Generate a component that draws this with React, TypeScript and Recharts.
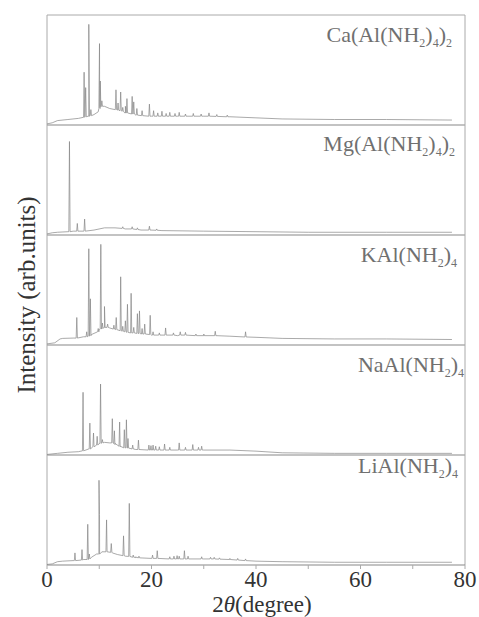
import React from 'react';
import { LineChart, Line, XAxis, YAxis, ReferenceLine } from 'recharts';

// 2θ axis
const xTicks = [0, 10, 20, 30, 40, 50, 60, 70, 80];

// Each pattern: baseline points [2θ, intensity] and peaks [2θ, base, top]
// intensity in % of its panel height
const caBase: [number, number][] = [[0,1],[1,2],[2,4],[4,5],[6,6],[7,7],[8,8],[9,9.5],[9.8,12],[10.3,17],[11,17],[12,15],[13,14],[15,11],[17,9],[20,8],[25,8],[30,8],[35,7.5],[40,6.5],[45,5.5],[55,5],[65,5],[77.5,4.5]];
const caPeaks: [number, number, number][] = [[7.1,7,48],[7.4,7.5,34],[8.0,8,91.5],[8.4,8.5,14],[10.05,15,74],[10.2,16.5,40],[10.5,17,22],[13.2,14,32],[13.6,13.5,20],[14.1,13,30],[14.5,12.5,16],[15.0,11,17],[15.3,11,24],[16.3,10,26],[16.6,10,21],[17.2,9,15],[18.2,8.5,13],[19.6,8,19],[20.4,8,13],[21.2,8,11],[22.0,8,12.5],[22.8,8,10.5],[23.5,8,11.5],[24.5,8,10.5],[25.3,8,11.5],[26.5,8,10],[28.0,8,10.5],[29.5,8,10],[31.0,8,11],[32.5,7.8,9.5],[34.5,7.5,9]];

const mgBase: [number, number][] = [[0,1],[1,2],[2,2.5],[4,3],[5,3.5],[7,3.5],[9,4.5],[11,6.5],[13,6.5],[15,5.5],[18,4.5],[22,4],[30,3.5],[40,3],[50,2.5],[65,2.5],[77.5,2.5]];
const mgPeaks: [number, number, number][] = [[4.3,3,85],[5.8,3.5,10.5],[7.2,3.5,14.5],[14.5,6,7.5],[16.3,5.5,7.5],[17.3,5,6.5],[19.6,4.5,8],[21,4.3,5.5]];

const kBase: [number, number][] = [[0,1],[1.5,2],[2.5,5.5],[3,6],[5,6.3],[7,7.5],[8.5,9.5],[10,14],[11,16],[12,15.5],[14,13],[16,11],[18,10],[20,9],[25,8.5],[30,8.5],[35,8],[40,7],[45,6],[55,5.5],[65,5.5],[77.5,5]];
const kPeaks: [number, number, number][] = [[5.7,6.3,25],[7.6,7.5,12],[8.0,8,87.5],[8.3,8.5,42],[9.8,12,15],[10.3,14.5,91.5],[10.6,15,20],[11.0,16,35],[11.6,16,19],[12.8,14.5,18],[13.25,14,25],[14.1,13,62],[14.5,12.5,17],[15.0,12,22],[15.4,11.5,37],[16.1,11,47],[16.6,11,16],[17.3,10.5,28.5],[17.7,10.5,31],[18.2,10,15],[18.7,10,19],[19.75,9.5,27],[20.3,9,12],[21.5,9,11],[22.7,9,15.5],[24.2,9,11],[25.5,9,12],[26.5,9,11.5],[28.5,8.5,10],[30,8.5,10],[32.2,8.5,12.5],[38.0,7.3,12]];

const naBase: [number, number][] = [[0,0.5],[2,1.5],[4,2.5],[6,3],[7,4],[8,5.5],[9,8],[10,10.5],[11,11.5],[12,11],[13,9.5],[14,7.5],[15,6.5],[17,5],[20,4.5],[25,4.5],[30,4.5],[35,4.5],[40,3.5],[45,2],[55,1.5],[65,1.5],[77.5,1.5]];
const naPeaks: [number, number, number][] = [[6.9,3.8,57],[8.2,5.5,29],[8.9,7.5,20],[9.6,9,17],[10.25,10.5,64.5],[10.6,11,14],[12.5,11,33],[12.9,10.5,22],[13.9,8,30],[14.8,6.5,23],[15.2,6.5,32],[15.5,6.3,15],[16.4,5.5,9],[17.5,5,13.5],[19.5,4.5,9],[19.9,4.5,8.5],[20.3,4.5,9],[20.8,4.5,8],[21.5,4.5,7.5],[22.5,4.5,10],[23.5,4.5,7],[25.3,4.5,11],[26.5,4.5,7],[27.9,4.5,9.5],[29.0,4.5,7],[29.6,4.5,8]];

const liBase: [number, number][] = [[0,0.5],[1,1],[2,3],[3,3.5],[5,4],[7,5],[8.5,7],[9.5,10],[10.5,12],[11.5,12],[12.5,11],[13.5,9.5],[15,8],[17,6.5],[20,6],[25,5.5],[30,5.5],[35,5],[40,3.5],[45,3],[55,2.5],[65,2.5],[77.5,2.5]];
const liPeaks: [number, number, number][] = [[5.35,4,11],[6.7,4.5,14],[7.8,5,37],[8.1,5.5,10],[9.95,10,77],[10.05,10.2,46],[11.4,12,41],[12.3,11.5,19.5],[14.65,8.5,26.5],[15.75,7.8,56],[16.5,7,9],[17.0,7,7.5],[17.6,6.5,8],[20.2,6,9],[21.1,6,13],[23.5,5.5,7.5],[24.3,5.5,8],[24.9,5.5,8.5],[25.3,5.5,8],[26.3,5.5,13],[27.0,5.5,8],[29.6,5.5,7.5],[31.3,5.5,7],[32.0,5.5,7],[33.0,5.3,6.5],[35,5,6],[36.5,4.5,6],[38,4,5.5]];

const PEAK_HALF = 0.12;

function build(base: [number, number][], peaks: [number, number, number][]) {
  const pts: { x: number; y: number }[] = base.map(([x, y]) => ({ x, y }));
  peaks.forEach(([x, b, t]) => {
    pts.push({ x: x - PEAK_HALF, y: b });
    pts.push({ x, y: t });
    pts.push({ x: x + PEAK_HALF, y: b });
  });
  pts.sort((a, b) => a.x - b.x);
  return pts;
}

const series = [
  { id: 'p4', data: build(caBase, caPeaks), k: 4 },
  { id: 'p3', data: build(mgBase, mgPeaks), k: 3 },
  { id: 'p2', data: build(kBase, kPeaks), k: 2 },
  { id: 'p1', data: build(naBase, naPeaks), k: 1 },
  { id: 'p0', data: build(liBase, liPeaks), k: 0 },
];

const SERIF = 'Liberation Serif, serif';
const LBL = '#707070';

function Formula({ x, y, parts }: { x: number; y: number; parts: [string, boolean][] }) {
  return (
    <text x={x} y={y} textAnchor="end" fontFamily={SERIF} fontSize={22} fill={LBL}>
      {parts.map(([s, sub], i) => (
        <tspan key={i} fontSize={sub ? 12 : 22} dy={sub ? 5 : (i > 0 && parts[i - 1][1] ? -5 : 0)}>{s}</tspan>
      ))}
    </text>
  );
}

export default function App() {
  return (
    <div style={{ position: 'absolute', left: 0, top: 0, width: 479, height: 617, background: '#fff' }}>
      <LineChart width={479} height={617} margin={{ top: 15, right: 14, bottom: 0, left: 47 }}>
        <XAxis
          dataKey="x"
          type="number"
          domain={[0, 80]}
          ticks={xTicks}
          height={52}
          tickSize={4}
          tickMargin={2}
          interval={0}
          axisLine={{ stroke: '#888', strokeWidth: 1.2 }}
          tickLine={{ stroke: '#aaa' }}
          tickFormatter={(v: number) => (v % 20 === 0 ? String(v) : '')}
          tick={{ fill: '#333', fontSize: 23, fontFamily: SERIF }}
        />
        {series.map((s) => (
          <YAxis key={s.id} yAxisId={s.id} hide type="number" domain={[-100 * s.k, 500 - 100 * s.k]} allowDataOverflow />
        ))}
        {[100, 200, 300, 400].map((v) => (
          <ReferenceLine key={v} yAxisId="p0" y={v} stroke="#888" strokeWidth={1.2} />
        ))}
        <ReferenceLine yAxisId="p0" y={500} stroke="#aaa" strokeWidth={1} />
        <ReferenceLine yAxisId="p0" x={0} stroke="#aaa" strokeWidth={1} />
        <ReferenceLine yAxisId="p0" x={80} stroke="#aaa" strokeWidth={1} />
        {series.map((s) => (
          <Line
            key={s.id}
            yAxisId={s.id}
            data={s.data}
            dataKey="y"
            type="linear"
            dot={false}
            stroke="#858585"
            strokeWidth={0.7}
            isAnimationActive={false}
          />
        ))}
      </LineChart>
      <svg width={479} height={617} style={{ position: 'absolute', left: 0, top: 0, pointerEvents: 'none' }}>
        <Formula x={452} y={42} parts={[['Ca(Al(NH', false], ['2', true], [')', false], ['4', true], [')', false], ['2', true]]} />
        <Formula x={455} y={151} parts={[['Mg(Al(NH', false], ['2', true], [')', false], ['4', true], [')', false], ['2', true]]} />
        <Formula x={457} y={262} parts={[['KAl(NH', false], ['2', true], [')', false], ['4', true]]} />
        <Formula x={464} y={372} parts={[['NaAl(NH', false], ['2', true], [')', false], ['4', true]]} />
        <Formula x={458} y={473} parts={[['LiAl(NH', false], ['2', true], [')', false], ['4', true]]} />
        <text x={26} y={295} transform="rotate(-90 26 295)" textAnchor="middle" dominantBaseline="central" fontFamily={SERIF} fontSize={25} fill="#333">
          Intensity (arb.units)
        </text>
        <text x={262} y={612} textAnchor="middle" fontFamily={SERIF} fontSize={23} fill="#333">
          2<tspan fontStyle="italic">θ</tspan>(degree)
        </text>
      </svg>
    </div>
  );
}
